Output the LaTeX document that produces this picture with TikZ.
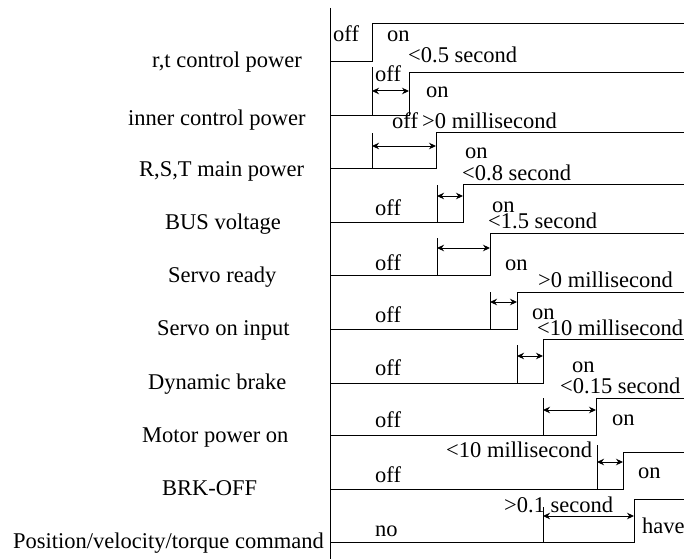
\documentclass[tikz,border=0pt]{standalone}
\usepackage{fontspec}
\setmainfont{Liberation Serif}
\usetikzlibrary{arrows.meta}
\begin{document}
\begin{tikzpicture}[x=1pt,y=-1pt,
  wave/.style={line width=1pt,line join=miter},
  tickline/.style={line width=1pt},
  dim/.style={line width=1pt,{Stealth[length=7pt,width=6.5pt]}-{Stealth[length=7pt,width=6.5pt]}},
  lbl/.style={inner sep=0pt,anchor=base west,font=\fontsize{22.5}{27}\selectfont}]
\useasboundingbox (0,0) rectangle (684,559);
% axis
\draw[line width=1pt] (330,8) coordinate (axtop) -- (330,559) coordinate (axbot);
% signal waveforms
\draw[wave] (330,62) -- (372,62) -- (372,24) -- (684,24);
\draw[wave] (330,115) -- (409,115) -- (409,73) -- (684,73);
\draw[wave] (330,168) -- (436,168) -- (436,132) -- (684,132);
\draw[wave] (330,222) -- (463,222) -- (463,184) -- (684,184);
\draw[wave] (330,275) -- (490,275) -- (490,233) -- (684,233);
\draw[wave] (330,329) -- (517,329) -- (517,292) -- (684,292);
\draw[wave] (330,383) -- (543,383) -- (543,339) -- (684,339);
\draw[wave] (330,435) -- (596,435) -- (596,398) -- (684,398);
\draw[wave] (330,489) -- (623,489) -- (623,452) -- (684,452);
\draw[wave] (330,542) -- (634,542) -- (634,499) -- (684,499);
% ticks
\draw[tickline] (372,67) -- (372,115);
\draw[tickline] (372,133) -- (372,168);
\draw[tickline] (437,185) -- (437,222);
\draw[tickline] (437,238) -- (437,275);
\draw[tickline] (490,292) -- (490,329);
\draw[tickline] (517,345) -- (517,383);
\draw[tickline] (543,398) -- (543,435);
\draw[tickline] (597,445) -- (597,489);
\draw[tickline] (543,507) -- (543,542);
% dimension arrows
\coordinate (a2l) at (372,91);  \coordinate (a2r) at (409,91);
\coordinate (a3l) at (372,146); \coordinate (a3r) at (436,146);
\coordinate (a4l) at (437,196); \coordinate (a4r) at (463,196);
\coordinate (a5l) at (437,248); \coordinate (a5r) at (490,248);
\coordinate (a6l) at (490,302); \coordinate (a6r) at (517,302);
\coordinate (a7l) at (517,356); \coordinate (a7r) at (543,356);
\coordinate (a8l) at (543,410); \coordinate (a8r) at (596,410);
\coordinate (a9l) at (597,462); \coordinate (a9r) at (623,462);
\coordinate (a10l) at (543,516); \coordinate (a10r) at (634,516);
\foreach \i in {2,...,10} {\draw[dim] (a\i l) -- (a\i r);}
% left labels
\node[lbl] (l1) at (152,68) {r,t control power};
\node[lbl] (l2) at (128,125) {inner control power};
\node[lbl] (l3) at (139,176) {R,S,T main power};
\node[lbl] (l4) at (165,229) {BUS voltage};
\node[lbl] (l5) at (168,282) {Servo ready};
\node[lbl] (l6) at (157,335) {Servo on input};
\node[lbl] (l7) at (148,389) {Dynamic brake};
\node[lbl] (l8) at (142,442) {Motor power on};
\node[lbl] (l9) at (162,495) {BRK-OFF};
\node[lbl] (l10) at (13,548) {Position/velocity/torque command};
% state labels
\node[lbl] (s1off) at (333,42) {off};
\node[lbl] (s1on) at (387,42) {on};
\node[lbl] (t2) at (408,63) {<0.5 second};
\node[lbl] (s2off) at (375,82) {off};
\node[lbl] (s2on) at (426,97) {on};
\node[lbl] (s3off) at (392,128) {off};
\node[lbl] (t3) at (422,128) {>0 millisecond};
\node[lbl] (s3on) at (465,158) {on};
\node[lbl] (t4) at (462,180) {<0.8 second};
\node[lbl] (s4off) at (375,215) {off};
\node[lbl] (s4on) at (492,212) {on};
\node[lbl] (t5) at (488,228) {<1.5 second};
\node[lbl] (s5off) at (375,270) {off};
\node[lbl] (s5on) at (505,270) {on};
\node[lbl] (t6) at (538,287) {>0 millisecond};
\node[lbl] (s6off) at (375,322) {off};
\node[lbl] (s6on) at (532,319) {on};
\node[lbl] (t7) at (537,335) {<10 millisecond};
\node[lbl] (s7off) at (375,375) {off};
\node[lbl] (s7on) at (572,372) {on};
\node[lbl] (t8) at (560,393) {<0.15 second};
\node[lbl] (s8off) at (375,427) {off};
\node[lbl] (s8on) at (612,425) {on};
\node[lbl] (t9) at (446,457) {<10 millisecond};
\node[lbl] (s9off) at (375,482) {off};
\node[lbl] (s9on) at (638,478) {on};
\node[lbl] (t10) at (504,512) {>0.1 second};
\node[lbl] (s10off) at (375,536) {no};
\node[lbl] (s10on) at (642,533) {have};
\end{tikzpicture}
\end{document}
